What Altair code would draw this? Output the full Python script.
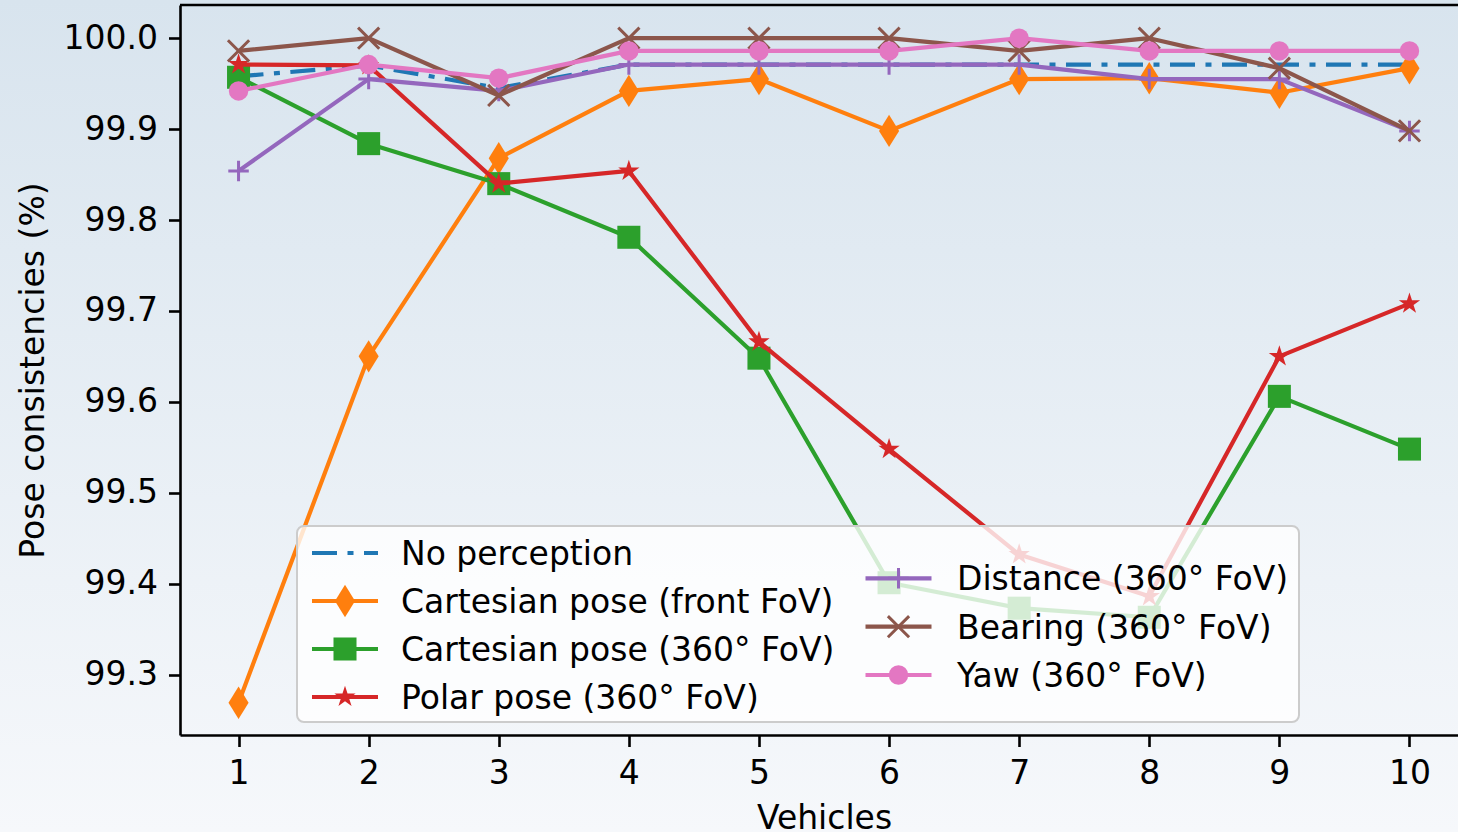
import math
import altair as alt
import pandas as pd

# ---------------- data ----------------
vehicles = [1, 2, 3, 4, 5, 6, 7, 8, 9, 10]
y_ticks = [99.3, 99.4, 99.5, 99.6, 99.7, 99.8, 99.9, 100.0]

no_perception = [99.958, 99.970, 99.945, 99.971, 99.971, 99.971, 99.971, 99.971, 99.971, 99.971]
cart_front = [99.269, 99.650, 99.868, 99.942, 99.955, 99.898, 99.955, 99.956, 99.940, 99.967]
cart_360 = [99.957, 99.884, 99.840, 99.781, 99.648, 99.401, 99.373, 99.363, 99.606, 99.548]
polar_360 = [99.971, 99.970, 99.840, 99.854, 99.666, 99.548, 99.432, 99.386, 99.650, 99.708]
distance_360 = [99.854, 99.955, 99.942, 99.971, 99.971, 99.971, 99.971, 99.955, 99.955, 99.898]
bearing_360 = [99.986, 100.0, 99.937, 100.0, 100.0, 100.0, 99.986, 100.0, 99.967, 99.898]
yaw_360 = [99.942, 99.971, 99.956, 99.986, 99.986, 99.986, 100.0, 99.986, 99.986, 99.986]

labels = [
    "No perception",
    "Cartesian pose (front FoV)",
    "Cartesian pose (360° FoV)",
    "Polar pose (360° FoV)",
    "Distance (360° FoV)",
    "Bearing (360° FoV)",
    "Yaw (360° FoV)",
]
series = [no_perception, cart_front, cart_360, polar_360, distance_360, bearing_360, yaw_360]
colors = ["#1f77b4", "#ff7f0e", "#2ca02c", "#d62728", "#9467bd", "#8c564b", "#e377c2"]

# ---------------- styles ----------------
FONT = "DejaVu Sans"
FS = 33
LW = 4.2
W, H = 1278, 730

star_pts = []
for i in range(10):
    r = 1.0 if i % 2 == 0 else 0.382
    a = math.pi / 2 - i * math.pi / 5
    star_pts.append((r * math.cos(a), -r * math.sin(a)))
STAR = "M" + "L".join(f"{px:.3f},{py:.3f}" for px, py in star_pts) + "Z"
THIN_DIAMOND = "M0,-1L0.62,0L0,1L-0.62,0Z"
PLUS = "M-1,0L1,0M0,-1L0,1"
XMARK = "M-1,-1L1,1M-1,1L1,-1"

markers = [
    None,
    dict(shape=THIN_DIAMOND, size=1050, filled=True, strokeWidth=0),
    dict(shape="square", size=530, filled=True, strokeWidth=0),
    dict(shape=STAR, size=500, filled=True, strokeWidth=0),
    dict(shape=PLUS, size=420, filled=False, strokeWidth=3),
    dict(shape=XMARK, size=450, filled=False, strokeWidth=3),
    dict(shape="circle", size=380, filled=True, strokeWidth=0),
]
dashes = [[25, 10.5, 6, 10.5], None, None, None, None, None, None]

x_scale = alt.Scale(domain=[0.55, 10.373], nice=False, zero=False)
y_scale = alt.Scale(domain=[99.2335, 100.0365], nice=False, zero=False)

common_axis = dict(
    grid=False, zindex=1,
    domainColor="black", domainWidth=2.6,
    tickColor="black", tickWidth=2.6, tickSize=11.5,
    labelFont=FONT, labelFontSize=FS, labelColor="black", labelPadding=11,
    labelOverlap=False, labelFlush=False,
    titleFont=FONT, titleFontSize=FS, titleFontWeight="normal", titleColor="black",
)
x_axis = alt.Axis(values=vehicles, format="d", title="Vehicles",
                  titleX=644, titleY=93, titleAlign="center", titleBaseline="alphabetic",
                  **common_axis)
y_axis = alt.Axis(values=y_ticks, format=".1f", title="Pose consistencies (%)",
                  titleX=-137, titleY=365, titleAngle=270, titleAlign="center",
                  titleBaseline="alphabetic", **common_axis)

one = pd.DataFrame({"k": [0]})

layers = []

# background gradient covering the whole canvas
bg = alt.Chart(one).mark_rect(
    color=alt.Gradient(
        gradient="linear",
        stops=[alt.GradientStop(color="#d8e4ee", offset=0),
               alt.GradientStop(color="#f6f8fb", offset=1)],
        x1=0, x2=0, y1=0, y2=1,
    )
).encode(x=alt.value(-180), x2=alt.value(W), y=alt.value(-5), y2=alt.value(H + 97))
layers.append(bg)

for lab, vals, col, mk, dash in zip(labels, series, colors, markers, dashes):
    df = pd.DataFrame({"vehicle": vehicles, "value": vals})
    enc = dict(
        x=alt.X("vehicle:Q", scale=x_scale, axis=x_axis),
        y=alt.Y("value:Q", scale=y_scale, axis=y_axis),
    )
    lkw = dict(color=col, strokeWidth=LW, strokeJoin="round")
    if dash:
        lkw["strokeDash"] = dash
    layers.append(alt.Chart(df).mark_line(**lkw).encode(**enc))
    if mk:
        layers.append(alt.Chart(df).mark_point(color=col, opacity=1, **mk).encode(**enc))

# legend (manual, matplotlib style)
layers.append(
    alt.Chart(one).mark_rect(fill="white", fillOpacity=0.8, stroke="#cccccc",
                             strokeWidth=2, cornerRadius=7)
    .encode(x=alt.value(117), x2=alt.value(1119), y=alt.value(521), y2=alt.value(717))
)
col_handle = [165, 718.5]
col_text = [221, 777]
col_rows = [[548, 596, 644, 692], [573.3, 621.7, 670]]
slots = [(0, 0), (0, 1), (0, 2), (0, 3), (1, 0), (1, 1), (1, 2)]
for (c, r), lab, col, mk, dash in zip(slots, labels, colors, markers, dashes):
    hx = col_handle[c]
    hy = col_rows[c][r]
    rkw = dict(color=col, strokeWidth=LW)
    if dash:
        rkw["strokeDash"] = dash
    layers.append(alt.Chart(one).mark_rule(**rkw).encode(
        x=alt.value(hx - 33), x2=alt.value(hx + 33), y=alt.value(hy)))
    if mk:
        layers.append(alt.Chart(one).mark_point(color=col, opacity=1, **mk).encode(
            x=alt.value(hx), y=alt.value(hy)))
    layers.append(alt.Chart(one).mark_text(
        text=lab, align="left", baseline="alphabetic", font=FONT, fontSize=FS, color="black"
    ).encode(x=alt.value(col_text[c]), y=alt.value(hy + 12)))

# top spine
layers.append(alt.Chart(one).mark_rule(color="black", strokeWidth=2.6).encode(
    x=alt.value(0), x2=alt.value(W), y=alt.value(0)))

chart = alt.layer(*layers).properties(
    width=W, height=H,
    autosize=alt.AutoSizeParams(type="none"),
    padding={"left": 180, "top": 5, "right": 0, "bottom": 97},
).configure_view(stroke=None).configure(background="#eef3f7")

chart.save("out.html", embed_options={"renderer": "svg", "actions": False})
